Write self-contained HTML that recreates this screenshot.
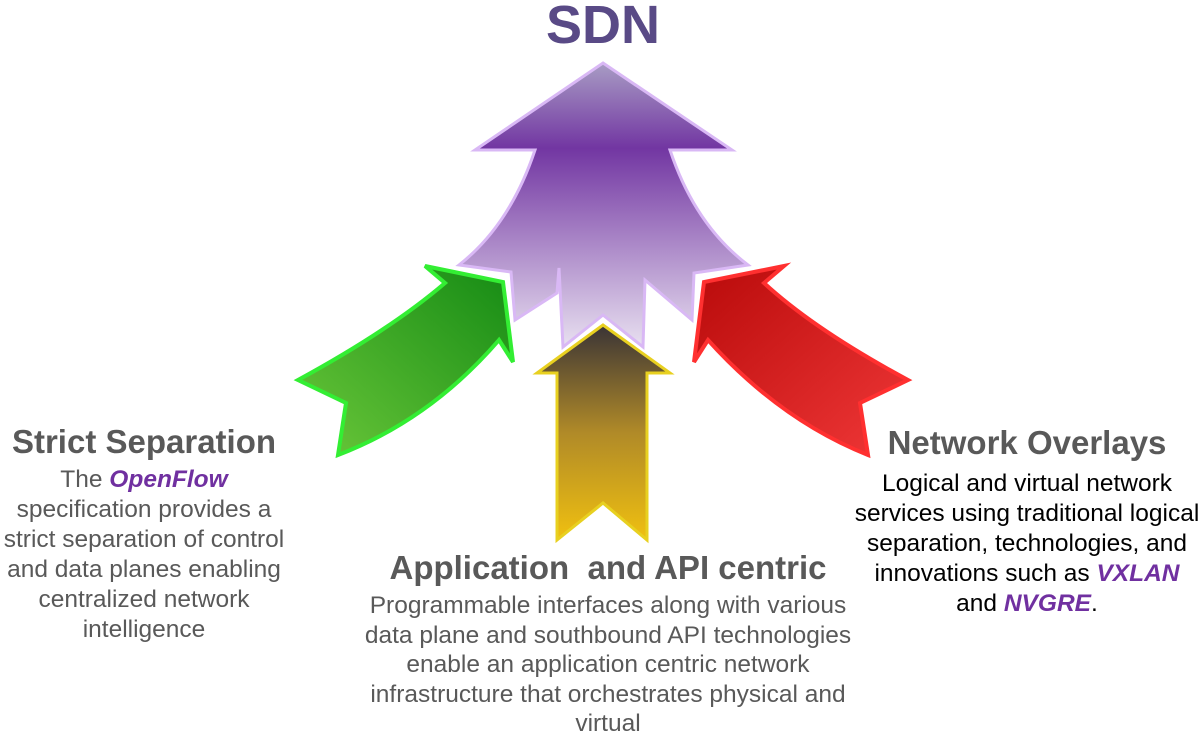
<!DOCTYPE html>
<html><head><meta charset="utf-8"><style>
body{margin:0;width:1203px;height:734px;background:#fff;position:relative;overflow:hidden;font-family:"Liberation Sans",sans-serif}
.t{position:absolute;text-align:center;color:#595959;white-space:nowrap}
.h{font-weight:bold;font-size:33px;line-height:38px;color:#595959}
.b{font-size:24.5px;line-height:30px}
.k{color:#7030a0;font-weight:bold;font-style:italic}
</style></head><body>
<svg width="1203" height="734" style="position:absolute;left:0;top:0">
<defs>
<linearGradient id="gp" x1="0" y1="0" x2="0" y2="1"><stop offset="0" stop-color="#a89cc4"/><stop offset="0.3" stop-color="#7236a2"/><stop offset="1" stop-color="#e8e0f0"/></linearGradient>
<linearGradient id="gg" x1="1" y1="0" x2="0" y2="1"><stop offset="0" stop-color="#148a14"/><stop offset="1" stop-color="#6cc83a"/></linearGradient>
<linearGradient id="gr" x1="0" y1="0" x2="1" y2="1"><stop offset="0" stop-color="#b80a0a"/><stop offset="1" stop-color="#f03838"/></linearGradient>
<linearGradient id="gy" x1="0" y1="0" x2="0" y2="1"><stop offset="0" stop-color="#3a3436"/><stop offset="0.5" stop-color="#b08a28"/><stop offset="1" stop-color="#f0c010"/></linearGradient>
</defs>
<path d="M603,63 L732,150 L670,150 Q695,225 748,265 L694,273 L692,320 L645,280 L643,347 L603,315 L563,347 L559,268 L557,293 L515,320 L511,272 L459,265 Q510,225 535,150 L475,150 Z" fill="url(#gp)" stroke="#d9b8f5" stroke-width="3"/>
<path d="M425,266 L503,282 L513,362 L499,340 Q430,420 338,455 L346,403 L298,380 Q390,330 445,283 Z" fill="url(#gg)" stroke="#33ee33" stroke-width="4"/>
<path d="M784,266 L704,282 L694,362 L708,340 Q780,420 868,455 L860,403 L908,380 Q815,330 764,283 Z" fill="url(#gr)" stroke="#ff3030" stroke-width="4"/>
<path d="M603,325 L670,373 L647,373 L647,540 L603,503 L557,540 L557,373 L537,373 Z" fill="url(#gy)" stroke="#e8d020" stroke-width="3"/>
</svg>
<div class="t" style="left:503px;top:-6px;width:200px;font-size:54px;font-weight:bold;color:#594a86">SDN</div>
<div class="t h" style="left:-56px;top:423px;width:400px">Strict Separation</div>
<div class="t b" style="left:-56px;top:465px;width:400px">The <span class="k">OpenFlow</span><br>specification provides a<br>strict separation of control<br>and data planes enabling<br>centralized network<br>intelligence</div>
<div class="t h" style="left:308px;top:549px;width:600px">Application &nbsp;and API centric</div>
<div class="t b" style="left:308px;top:591px;width:600px;line-height:29.5px">Programmable interfaces along with various<br>data plane and southbound API technologies<br>enable an application centric network<br>infrastructure that orchestrates physical and<br>virtual</div>
<div class="t h" style="left:827px;top:424px;width:400px">Network Overlays</div>
<div class="t b" style="left:827px;top:469px;width:400px;color:#000">Logical and virtual network<br>services using traditional logical<br>separation, technologies, and<br>innovations such as <span class="k">VXLAN</span><br>and <span class="k">NVGRE</span>.</div>
</body></html>
